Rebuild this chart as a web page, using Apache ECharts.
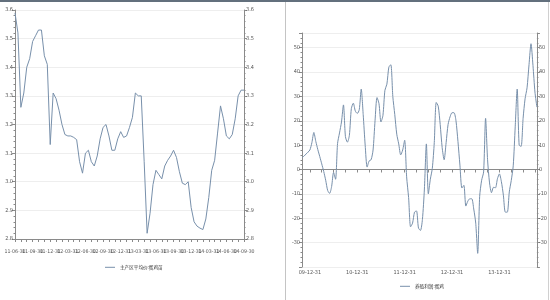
<!DOCTYPE html>
<html><head><meta charset="utf-8">
<script src="https://cdn.jsdelivr.net/npm/echarts@6/dist/echarts.min.js"></script>
<style>html,body{margin:0;padding:0;background:#fff}#c{width:550px;height:300px}</style>
</head><body><div id="c"></div>
<script>
// ---- Left chart: 主产区平均价:蛋鸡苗 (semi-monthly) ----
const catL = ['11-06-30','11-07-15','11-07-31','11-08-15','11-08-31','11-09-15','11-09-30','11-10-15','11-10-31','11-11-15','11-11-30','11-12-15','11-12-31',
'12-01-15','12-01-31','12-02-15','12-02-29','12-03-15','12-03-31','12-04-15','12-04-30','12-05-15','12-05-31','12-06-15','12-06-30','12-07-15','12-07-31','12-08-15','12-08-31','12-09-15','12-09-30','12-10-15','12-10-31','12-11-15','12-11-30','12-12-15','12-12-31',
'13-01-15','13-01-31','13-02-15','13-02-28','13-03-15','13-03-31','13-04-15','13-04-30','13-05-15','13-05-31','13-06-15','13-06-30','13-07-15','13-07-31','13-08-15','13-08-31','13-09-15','13-09-30','13-10-15','13-10-31','13-11-15','13-11-30','13-12-15','13-12-31',
'14-01-15','14-01-31','14-02-15','14-02-28','14-03-15','14-03-31','14-04-15','14-04-30','14-05-15','14-05-31','14-06-15','14-06-30','14-07-15','14-07-31','14-08-15','14-08-31','14-09-15','14-09-30'];
const valL = [3.59,3.52,3.26,3.31,3.40,3.43,3.49,3.51,3.53,3.53,3.44,3.41,3.13,3.31,3.29,3.25,3.20,3.165,3.16,3.16,
3.155,3.147,3.07,3.03,3.10,3.11,3.07,3.055,3.09,3.15,3.19,3.20,3.16,3.11,3.11,3.15,3.175,3.155,3.16,3.19,
3.225,3.31,3.30,3.30,3.07,2.82,2.89,2.99,3.04,3.025,3.01,3.055,3.075,3.09,3.11,3.085,3.035,2.995,2.99,3.00,
2.91,2.86,2.845,2.838,2.833,2.87,2.945,3.04,3.075,3.17,3.265,3.22,3.16,3.15,3.165,3.22,3.30,3.32,3.32];
const nameL = '主产区平均价:蛋鸡苗';
const yMinL = 2.8, yMaxL = 3.6, yStepL = 0.1;

// ---- Right chart: 养殖利润:蛋鸡 (semi-monthly) ----
const catR = ['09-10-31','09-11-15','09-11-30','09-12-15','09-12-31',
'10-01-15','10-01-31','10-02-15','10-02-28','10-03-15','10-03-31','10-04-15','10-04-30','10-05-15','10-05-31','10-06-15','10-06-30','10-07-15','10-07-31','10-08-15','10-08-31','10-09-15','10-09-30','10-10-15','10-10-31','10-11-15','10-11-30','10-12-15','10-12-31',
'11-01-15','11-01-31','11-02-15','11-02-28','11-03-15','11-03-31','11-04-15','11-04-30','11-05-15','11-05-31','11-06-15','11-06-30','11-07-15','11-07-31','11-08-15','11-08-31','11-09-15','11-09-30','11-10-15','11-10-31','11-11-15','11-11-30','11-12-15','11-12-31',
'12-01-15','12-01-31','12-02-15','12-02-29','12-03-15','12-03-31','12-04-15','12-04-30','12-05-15','12-05-31','12-06-15','12-06-30','12-07-15','12-07-31','12-08-15','12-08-31','12-09-15','12-09-30','12-10-15','12-10-31','12-11-15','12-11-30','12-12-15','12-12-31',
'13-01-15','13-01-31','13-02-15','13-02-28','13-03-15','13-03-31','13-04-15','13-04-30','13-05-15','13-05-31','13-06-15','13-06-30','13-07-15','13-07-31','13-08-15','13-08-31','13-09-15','13-09-30','13-10-15','13-10-31','13-11-15','13-11-30','13-12-15','13-12-31',
'14-01-15','14-01-31','14-02-15','14-02-28','14-03-15','14-03-31','14-04-15','14-04-30','14-05-15','14-05-31','14-06-15','14-06-30','14-07-15','14-07-31','14-08-15','14-08-31','14-09-15','14-09-30','14-10-15'];
const valR = [4.8,5.5,6.3,7.1,8.0,11,15.2,11.5,8.2,5.3,
2.3,-0.8,-4.4,-8.6,-9.8,-7,-1.2,-4,10.6,15,
19.5,26.5,13.5,11.2,14,25,27.2,24,23,24.5,
33,22.5,10,1,3.5,4,8,20,29.5,27,
19.5,22.2,32.5,35,42,43,30,22.5,14.5,10.5,
6,8,12,-3,-11.5,-23.5,-22,-17.5,-17,-24,
-25,-20.5,-8,10.5,-10,-4,0.4,11,27.5,26,
18.5,9,4,11,18.5,21.6,23.3,23.3,20,11.5,
1.8,-7.6,-6.5,-15,-13,-12,-12,-16.2,-22,-34.4,
-11,-4.4,-1,21,4,-5.5,-9.5,-7.3,-7.5,-3.8,
-1.8,-5,-10.5,-17.5,-17.5,-9.2,-4.5,1.5,17.5,33,
10,9.5,21,29,33.5,43,51.6,42.7,31.8,25.6];
const nameR = '养殖利润:蛋鸡';
const yMinR = -40, yMaxR = 56, yStepR = 10;

const FONT = "'Liberation Sans Narrow','DejaVu Sans Condensed',sans-serif";
const CJK = "'Noto Sans CJK SC',sans-serif";
const axisCol = '#8a8a8a', txtCol = '#555', lineCol = '#7890ab', splitCol = '#eeeeee';

function mkY(grid, pos, min, max, step, dec, split, hideEnds) {
  return {
    gridIndex: grid, type: 'value', position: pos, min: min, max: max, interval: step,
    axisLine: { show: true, lineStyle: { color: axisCol, width: 1 } },
    axisTick: { show: true, length: 3, lineStyle: { color: axisCol } },
    minorTick: { show: true, splitNumber: 5, length: 1.5, lineStyle: { color: axisCol } },
    axisLabel: { fontSize: 5.5, fontFamily: FONT, color: txtCol, margin: 2, hideOverlap: false,
      showMinLabel: !hideEnds, showMaxLabel: !hideEnds,
      formatter: v => v.toFixed(dec) },
    splitLine: { show: split, lineStyle: { color: splitCol, width: 1 } },
    minorSplitLine: { show: false }
  };
}

const chart = echarts.init(document.getElementById('c'), null, { renderer: 'canvas' });
chart.setOption({
  animation: false,
  backgroundColor: '#fff',
  grid: [
    { left: 15, right: 306, top: 10, bottom: 61 },
    { left: 302, right: 13, top: 33, bottom: 33 }
  ],
  xAxis: [
    { gridIndex: 0, type: 'category', data: catL, boundaryGap: false,
      axisLine: { lineStyle: { color: axisCol } },
      axisTick: { interval: (i) => i % 2 === 0, length: 3, lineStyle: { color: axisCol } },
      axisLabel: { interval: 0, hideOverlap: false,
        formatter: (v, i) => (i % 6 === 0 ? v : ''),
        fontSize: 5.2, fontFamily: FONT, color: txtCol, margin: 10 },
      splitLine: { show: false } },
    { gridIndex: 1, type: 'category', data: catR, boundaryGap: false,
      axisLine: { lineStyle: { color: axisCol } },
      axisTick: { interval: (i) => i % 6 === 4, length: 3, lineStyle: { color: axisCol } },
      axisLabel: { interval: 0, hideOverlap: false,
        formatter: (v, i) => (i % 24 === 4 ? v : ''),
        fontSize: 5.5, fontFamily: FONT, color: txtCol, margin: 3 },
      splitLine: { show: false } }
  ],
  yAxis: [
    mkY(0, 'left', yMinL, yMaxL, yStepL, 1, true, false),
    mkY(0, 'right', yMinL, yMaxL, yStepL, 1, false, false),
    mkY(1, 'left', yMinR, yMaxR, yStepR, 0, true, true),
    mkY(1, 'right', yMinR, yMaxR, yStepR, 0, false, true)
  ],
  legend: [
    { data: [nameL], left: 105, top: 265, icon: 'rect', itemWidth: 10, itemHeight: 1, itemGap: 3, padding: 0,
      textStyle: { fontSize: 4.6, fontFamily: CJK, color: '#333' } },
    { data: [nameR], left: 400, top: 284, icon: 'rect', itemWidth: 10, itemHeight: 1, itemGap: 3, padding: 0,
      textStyle: { fontSize: 4.6, fontFamily: CJK, color: '#333' } }
  ],
  series: [
    { name: nameL, type: 'line', xAxisIndex: 0, yAxisIndex: 0, data: valL, symbol: 'none',
      lineStyle: { color: lineCol, width: 1 }, itemStyle: { color: lineCol } },
    { name: nameR, type: 'line', xAxisIndex: 1, yAxisIndex: 2, data: valR, symbol: 'none', smooth: 0.25,
      lineStyle: { color: lineCol, width: 1 }, itemStyle: { color: lineCol } }
  ],
  graphic: [
    { type: 'line', shape: { x1: 0, y1: 1, x2: 550, y2: 1 }, style: { stroke: '#2f4052', lineWidth: 1.6 }, silent: true },
    { type: 'line', shape: { x1: 285.5, y1: 2, x2: 285.5, y2: 300 }, style: { stroke: '#c4c4c4', lineWidth: 1 }, silent: true },
    { type: 'line', shape: { x1: 548.5, y1: 2, x2: 548.5, y2: 300 }, style: { stroke: '#d0d0d0', lineWidth: 1 }, silent: true }
  ]
});
</script></body></html>
